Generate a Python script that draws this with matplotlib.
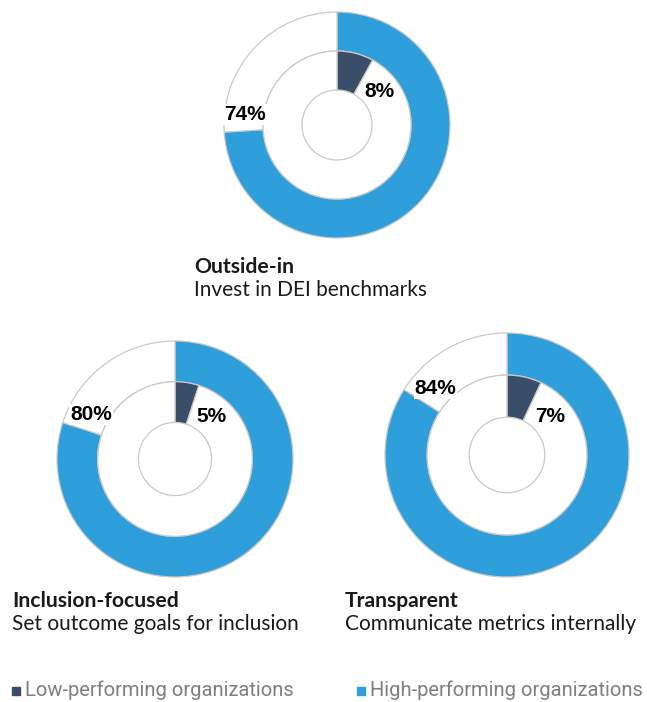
import numpy as np
import matplotlib
matplotlib.use("Agg")
import matplotlib.pyplot as plt
from matplotlib.patches import Rectangle

# -------------------------------------------------
# DATA
# -------------------------------------------------
titles = ["Outside-in", "Inclusion-focused", "Transparent"]
subtitles = ["Invest in DEI benchmarks", "Set outcome goals for inclusion",
             "Communicate metrics internally"]
high_pct = [74, 80, 84]
low_pct = [8, 5, 7]
series_names = ["Low-performing organizations", "High-performing organizations"]

# -------------------------------------------------
# STYLE / LAYOUT (pixels)
# -------------------------------------------------
W, H = 647, 702
BLUE = "#2f9fdb"
NAVY = "#3a4e6a"
EDGE = "#c9c9c9"
LEGEND_GRAY = "#7f7f7f"

centers = [(337, 125, 113), (175, 459, 118), (507, 455, 122)]
title_pos = [(194, 273), (12, 607), (345, 607)]
INNER_R = 0.655
HOLE_R = 0.31

fig = plt.figure(figsize=(W / 100, H / 100), dpi=100)


def add_donut(cx, cy, R, hi, lo):
    m = 1.12
    ax = fig.add_axes([(cx - m * R) / W, (H - cy - m * R) / H,
                       2 * m * R / W, 2 * m * R / H])
    ax.set_aspect("equal")
    ax.axis("off")

    wp = dict(edgecolor=EDGE, linewidth=0.9)
    ax.pie([hi, 100 - hi], radius=1.0, startangle=90, counterclock=False,
           colors=[BLUE, "white"], wedgeprops=dict(width=1 - INNER_R, **wp))
    ax.pie([lo, 100 - lo], radius=INNER_R, startangle=90, counterclock=False,
           colors=[NAVY, "white"], wedgeprops=dict(width=INNER_R - HOLE_R, **wp))
    ax.set_xlim(-m, m)
    ax.set_ylim(-m, m)

    # high-performing label, just past the end of the blue arc
    a = np.deg2rad(90 - hi * 3.6 - 12)
    ax.text(0.82 * np.cos(a), 0.82 * np.sin(a) - 0.03, f"{hi}%", ha="center",
            va="center", fontsize=15, fontweight="bold", family="Liberation Sans",
            color="black",
            bbox=dict(boxstyle="square,pad=0.05", fc="white", ec="none"))
    # low-performing label, beside the dark wedge
    a = np.deg2rad(90 - lo * 3.6 - 21)
    ax.text(0.49 * np.cos(a), 0.49 * np.sin(a) - 0.02, f"{lo}%", ha="center",
            va="center", fontsize=15, fontweight="bold", family="Liberation Sans",
            color="black")


for (cx, cy, R), hi, lo in zip(centers, high_pct, low_pct):
    add_donut(cx, cy, R, hi, lo)

# titles
for (tx, ty), t, s in zip(title_pos, titles, subtitles):
    fig.text(tx / W, 1 - ty / H, t, fontsize=15.2, fontweight="bold", family="Lato",
             color="#1a1a1a", va="baseline", ha="left")
    fig.text(tx / W, 1 - (ty + 23) / H, s, fontsize=15, family="Lato",
             color="#1a1a1a", va="baseline", ha="left")

# legend
leg_y = 696
for (lx, col), name in zip([(12, NAVY), (357, BLUE)], series_names):
    fig.patches.append(Rectangle((lx / W, 1 - (leg_y - 1) / H), 8 / W, 8 / H,
                                 transform=fig.transFigure, color=col))
    fig.text((lx + 13) / W, 1 - leg_y / H, name, fontsize=14.5,
             family=["Liberation Sans Narrow", "Roboto", "DejaVu Sans"],
             color=LEGEND_GRAY, va="baseline", ha="left")

fig.savefig("out.png", dpi=100)
